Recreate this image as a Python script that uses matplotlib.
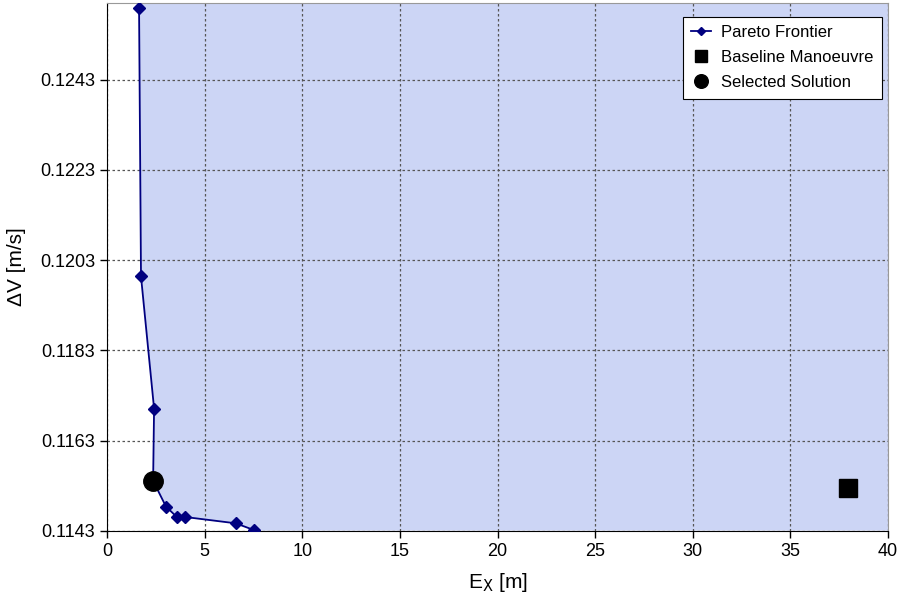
import matplotlib.pyplot as plt
import numpy as np

# Pareto frontier (Ex [m], dV [m/s])
pareto_ex = [1.64, 1.74, 2.41, 2.36, 3.02, 3.60, 4.00, 6.59, 7.53]
pareto_dv = [0.12590, 0.11994, 0.11701, 0.11541, 0.11484, 0.11460, 0.11461, 0.11447, 0.11432]

baseline_ex = [37.95]
baseline_dv = [0.11526]

selected_ex = [2.36]
selected_dv = [0.11541]

x_ticks = [0, 5, 10, 15, 20, 25, 30, 35, 40]
y_ticks = [0.1143, 0.1163, 0.1183, 0.1203, 0.1223, 0.1243]

plt.rcParams['font.family'] = ['Liberation Sans', 'DejaVu Sans']

fig = plt.figure(figsize=(9.04, 6.04), dpi=100)
ax = fig.add_axes([0.1184, 0.1209, 0.8639, 0.8741])

ymin, ymax = 0.1143, 0.1260
xmin, xmax = 0, 40

# shaded feasible region right of the frontier
fy = [ymax] + pareto_dv
fx = [pareto_ex[0]] + pareto_ex
ax.fill_betweenx(fy, fx, xmax, color='#ccd5f5', zorder=0, linewidth=0)

ax.plot(pareto_ex, pareto_dv, color='#000080', marker='D', markersize=6,
        linewidth=1.3, label='Pareto Frontier', zorder=3)
ax.plot(baseline_ex, baseline_dv, linestyle='none', marker='s', color='black',
        markersize=13, label='Baseline Manoeuvre', zorder=4)
ax.plot(selected_ex, selected_dv, linestyle='none', marker='o', color='black',
        markersize=14, label='Selected Solution', zorder=4)

ax.set_xlim(xmin, xmax)
ax.set_ylim(ymin, ymax)
ax.set_xticks(x_ticks)
ax.set_yticks(y_ticks)
ax.set_yticklabels(['%.4f' % v for v in y_ticks])
ax.grid(True, color='#555555', linestyle=(0, (2, 2)), linewidth=0.9, zorder=1)
ax.set_axisbelow(True)

for s in ['top', 'right']:
    ax.spines[s].set_color('#999999')
for s in ['left', 'bottom']:
    ax.spines[s].set_color('black')
ax.tick_params(direction='out', length=5, labelsize=13, width=1)

ax.set_xlabel('E$_\\mathrm{X}$ [m]', fontsize=15, labelpad=8)
ax.set_ylabel('ΔV [m/s]', fontsize=15, labelpad=10)

leg = ax.legend(loc='upper right', fontsize=12, frameon=True, fancybox=False,
                framealpha=1, edgecolor='black',
                bbox_to_anchor=(882 / 904, 1 - 17 / 604),
                bbox_transform=fig.transFigure, borderaxespad=0,
                borderpad=0.5, labelspacing=0.6,
                handlelength=1.2, handletextpad=0.6, markerscale=0.7)
leg.get_frame().set_linewidth(0.8)

plt.savefig('out.png', dpi=100)
